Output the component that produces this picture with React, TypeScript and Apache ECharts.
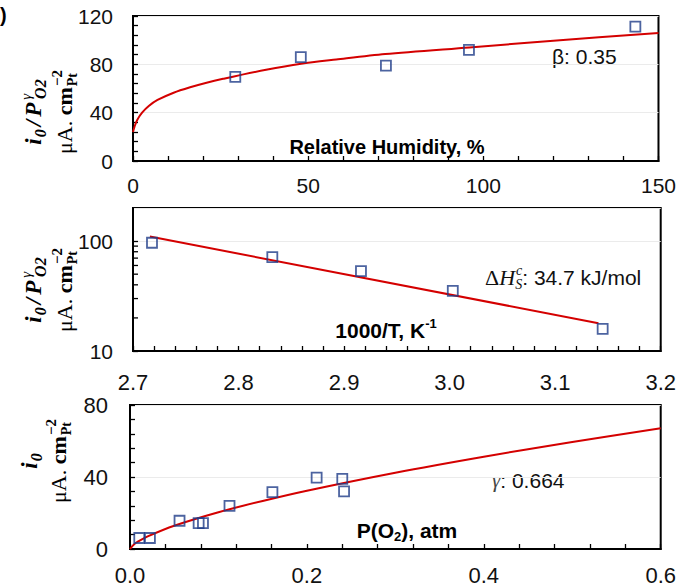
import { useEffect, useRef } from "react";
import * as echarts from "echarts";

// ---- Panel (a): relative humidity ----
const rhX = [29.2, 47.9, 72.2, 95.9, 143.4];
const rhY = [69.7, 85.9, 79, 92, 111.2];
const rhFitX = [0, 0.5, 1.2, 2.6, 4.5, 7, 11.6, 16.3, 21, 25.7, 38, 48, 58, 72, 96, 120, 150];
const rhFitY = [24, 29, 34, 40, 45.5, 50.5, 56.5, 61, 64.8, 68, 75.5, 80.5, 84, 88.5, 94, 99.5, 106];

// ---- Panel (b): Arrhenius ----
const arrX = [2.718, 2.832, 2.916, 3.003, 3.145];
const arrY = [96.6, 71.6, 53.2, 35.2, 15.9];
const arrFitX = [2.716, 3.141];
const arrFitY = [110, 17.9];
const logMinorTicks = [20, 30, 40, 50, 60, 70, 80, 90];

// ---- Panel (c): oxygen partial pressure ----
const po2X = [0.0105, 0.0225, 0.056, 0.0776, 0.0825, 0.1125, 0.161, 0.211, 0.24, 0.242];
const po2Y = [6.1, 6.1, 15.7, 14.4, 14.4, 24, 31.6, 39.7, 39, 32];
const po2FitX = [0, 0.005, 0.01, 0.02, 0.05, 0.1, 0.15, 0.2, 0.3, 0.4, 0.5, 0.6];
const po2FitY = [0, 2.8, 4.4, 7.0, 12.9, 20.4, 26.7, 32.4, 42.4, 51.3, 59.5, 67.1];

const RED = "#D40000";
const BLUE = "#1F3C88";
const SANS = "'Liberation Sans', Arial, sans-serif";
const SERIF = "'Liberation Serif', 'Times New Roman', serif";

const zip = (xs: number[], ys: number[]) => xs.map((x, i) => [x, ys[i]]);

function xAxis(gridIndex: number, min: number, max: number, interval: number, margin: number, digits: number, fontSize: number) {
  return {
    type: "value",
    gridIndex,
    min,
    max,
    interval,
    axisLine: { show: true, onZero: false, lineStyle: { color: "#000", width: 2 } },
    axisTick: { show: true, inside: true, length: 5, lineStyle: { color: "#000", width: 1.3 } },
    minorTick: { show: true, splitNumber: 5, length: 5, lineStyle: { color: "#000", width: 1.3 } },
    splitLine: { show: false },
    axisLabel: {
      fontSize,
      fontFamily: SANS,
      color: "#111",
      margin,
      formatter: (v: number) => v.toFixed(digits),
    },
  };
}

function yAxis(gridIndex: number, min: number, max: number, interval: number, margin: number, fontSize: number) {
  return {
    type: "value",
    gridIndex,
    min,
    max,
    interval,
    axisLine: { show: true, onZero: false, lineStyle: { color: "#000", width: 2 } },
    axisTick: { show: true, inside: true, length: 5, lineStyle: { color: "#000", width: 1.3 } },
    minorTick: { show: true, splitNumber: 5, length: 5, lineStyle: { color: "#000", width: 1.3 } },
    splitLine: { show: true, lineStyle: { color: "#ebebeb", width: 1 } },
    axisLabel: { fontSize, fontFamily: SANS, color: "#111", margin },
  };
}

const richL1 = {
  a: { fontFamily: SERIF, fontStyle: "italic", fontWeight: "bold", fontSize: 23, lineHeight: 30, fill: "#000" },
  sl: { fontFamily: SERIF, fontStyle: "italic", fontWeight: "bold", fontSize: 23, lineHeight: 30, fill: "#000", padding: [0, 3, 0, 3] },
  b: { fontFamily: SERIF, fontStyle: "italic", fontWeight: "bold", fontSize: 16, lineHeight: 14, verticalAlign: "bottom", fill: "#000", padding: [0, 0, 0, 1] },
  c: { fontFamily: SERIF, fontStyle: "italic", fontSize: 15, lineHeight: 13, verticalAlign: "top", fill: "#000", padding: [0, -6, 0, 3] },
};
const richL2 = {
  r: { fontFamily: SERIF, fontSize: 22, lineHeight: 30, fill: "#000" },
  bd: { fontFamily: SERIF, fontWeight: "bold", fontSize: 22, lineHeight: 30, fill: "#000" },
  sb: { fontFamily: SERIF, fontWeight: "bold", fontSize: 14, lineHeight: 13, verticalAlign: "bottom", fill: "#000", padding: [0, -13, 0, 1] },
  sp: { fontFamily: SERIF, fontWeight: "bold", fontSize: 15, lineHeight: 13, verticalAlign: "top", fill: "#000" },
};

function yTitle(x1: number, x2: number, y: number, first: string) {
  return [
    {
      type: "text",
      x: x1,
      y,
      rotation: Math.PI / 2,
      style: { text: first, rich: richL1, align: "center", verticalAlign: "middle" },
    },
    {
      type: "text",
      x: x2,
      y,
      rotation: Math.PI / 2,
      style: {
        text: "{r|μA. }{bd|cm}{sb|Pt}{sp|−2}",
        rich: richL2,
        align: "center",
        verticalAlign: "middle",
      },
    },
  ];
}

const FIRST_LINE = "{a|i}{b|0}{sl|/}{a|P}{c|γ}{b|O2}";

export default function App() {
  const ref = useRef<HTMLDivElement>(null);

  useEffect(() => {
    const chart = echarts.init(ref.current!, null, { renderer: "svg" });

    const gridStyle = { show: true, borderColor: "#000", borderWidth: 2, backgroundColor: "transparent", containLabel: false };
    const markerStyle = { color: "rgba(0,0,0,0)", borderColor: BLUE, borderWidth: 1.8 };

    const option: any = {
      animation: false,
      backgroundColor: "#fff",
      grid: [
        { ...gridStyle, left: 133, top: 16, width: 532, height: 145 },
        { ...gridStyle, left: 133, top: 208, width: 530, height: 143 },
        { ...gridStyle, left: 130, top: 405, width: 533, height: 144 },
      ],
      xAxis: [
        xAxis(0, 0, 150, 50, 14, 0, 21),
        xAxis(1, 2.7, 3.2, 0.1, 20, 1, 22),
        xAxis(2, 0, 0.6, 0.2, 15, 1, 22),
      ],
      yAxis: [
        yAxis(0, 0, 120, 40, 20, 21),
        {
          type: "log",
          gridIndex: 1,
          logBase: 10,
          min: 10,
          max: 200,
          axisLine: { show: true, onZero: false, lineStyle: { color: "#000", width: 2 } },
          axisTick: { show: true, inside: true, length: 5, lineStyle: { color: "#000", width: 1.3 } },
          minorTick: { show: false },
          splitLine: { show: true, lineStyle: { color: "#ebebeb", width: 1 } },
          axisLabel: {
            fontSize: 21,
            fontFamily: SANS,
            color: "#111",
            margin: 20,
            showMaxLabel: false,
            formatter: (v: number) => String(Math.round(v)),
          },
        },
        yAxis(2, 0, 80, 40, 22, 22),
      ],
      series: [
        {
          type: "line",
          xAxisIndex: 0,
          yAxisIndex: 0,
          data: zip(rhFitX, rhFitY),
          smooth: 0.3,
          showSymbol: false,
          lineStyle: { color: RED, width: 2 },
          silent: true,
        },
        {
          type: "scatter",
          xAxisIndex: 0,
          yAxisIndex: 0,
          data: zip(rhX, rhY),
          symbol: "rect",
          symbolSize: 10,
          itemStyle: markerStyle,
          z: 5,
        },
        {
          type: "line",
          xAxisIndex: 1,
          yAxisIndex: 1,
          data: zip(arrFitX, arrFitY),
          showSymbol: false,
          lineStyle: { color: RED, width: 2 },
          silent: true,
        },
        {
          type: "scatter",
          xAxisIndex: 1,
          yAxisIndex: 1,
          data: zip(arrX, arrY),
          symbol: "rect",
          symbolSize: 10,
          itemStyle: markerStyle,
          z: 5,
        },
        {
          type: "custom",
          xAxisIndex: 1,
          yAxisIndex: 1,
          silent: true,
          data: logMinorTicks.map((v) => [2.7, v]),
          renderItem: (_params: any, api: any) => {
            const p = api.coord([api.value(0), api.value(1)]);
            return {
              type: "line",
              shape: { x1: p[0], y1: p[1], x2: p[0] + 5, y2: p[1] },
              style: { stroke: "#000", lineWidth: 1.3 },
            };
          },
        },
        {
          type: "line",
          xAxisIndex: 2,
          yAxisIndex: 2,
          data: zip(po2FitX, po2FitY),
          smooth: 0.3,
          showSymbol: false,
          lineStyle: { color: RED, width: 2 },
          silent: true,
        },
        {
          type: "scatter",
          xAxisIndex: 2,
          yAxisIndex: 2,
          data: zip(po2X, po2Y),
          symbol: "rect",
          symbolSize: 10,
          itemStyle: markerStyle,
          z: 5,
        },
      ],
      graphic: [
        {
          type: "text",
          x: 0,
          y: 15,
          style: { text: ")", fontFamily: SANS, fontWeight: "bold", fontSize: 20, fill: "#000", align: "left", verticalAlign: "middle" },
        },
        ...yTitle(33, 64, 112, FIRST_LINE),
        ...yTitle(33, 64, 290, FIRST_LINE),
        ...yTitle(29, 58, 461, "{a|i}{b|0}"),
        {
          type: "text",
          x: 387,
          y: 147,
          style: { text: "Relative Humidity, %", fontFamily: SANS, fontWeight: "bold", fontSize: 20, fill: "#000", align: "center", verticalAlign: "middle" },
        },
        {
          type: "text",
          x: 552,
          y: 56,
          style: { text: "β: 0.35", fontFamily: SANS, fontSize: 21, fill: "#111", align: "left", verticalAlign: "middle" },
        },
        {
          type: "text",
          x: 386,
          y: 330,
          style: {
            text: "{b|1000/T, K}{s|-1}",
            align: "center",
            verticalAlign: "middle",
            rich: {
              b: { fontFamily: SANS, fontWeight: "bold", fontSize: 21, lineHeight: 26, fill: "#000" },
              s: { fontFamily: SANS, fontWeight: "bold", fontSize: 13, lineHeight: 13, verticalAlign: "top", fill: "#000" },
            },
          },
        },
        {
          type: "text",
          x: 485,
          y: 277,
          style: {
            text: "{r|Δ}{i|H}{sp|c}{sb|S}{t|: 34.7 kJ/mol}",
            align: "left",
            verticalAlign: "middle",
            rich: {
              r: { fontFamily: SERIF, fontSize: 22, lineHeight: 28, fill: "#111" },
              i: { fontFamily: SERIF, fontStyle: "italic", fontSize: 22, lineHeight: 28, fill: "#111" },
              sp: { fontFamily: SERIF, fontStyle: "italic", fontSize: 14, lineHeight: 12, verticalAlign: "top", fill: "#111", padding: [0, -7, 0, 1] },
              sb: { fontFamily: SERIF, fontStyle: "italic", fontSize: 14, lineHeight: 12, verticalAlign: "bottom", fill: "#111" },
              t: { fontFamily: SANS, fontSize: 21, lineHeight: 28, fill: "#111" },
            },
          },
        },
        {
          type: "text",
          x: 407,
          y: 530,
          style: {
            text: "{b|P(O}{s|2}{b|), atm}",
            align: "center",
            verticalAlign: "middle",
            rich: {
              b: { fontFamily: SANS, fontWeight: "bold", fontSize: 21, lineHeight: 26, fill: "#000" },
              s: { fontFamily: SANS, fontWeight: "bold", fontSize: 13, lineHeight: 13, verticalAlign: "bottom", fill: "#000" },
            },
          },
        },
        {
          type: "text",
          x: 492,
          y: 480,
          style: {
            text: "{g|γ}{t|: 0.664}",
            align: "left",
            verticalAlign: "middle",
            rich: {
              g: { fontFamily: SERIF, fontStyle: "italic", fontSize: 21, lineHeight: 26, fill: "#444" },
              t: { fontFamily: SANS, fontSize: 21, lineHeight: 26, fill: "#111" },
            },
          },
        },
      ],
    };

    chart.setOption(option);
    return () => chart.dispose();
  }, []);

  return <div ref={ref} style={{ position: "fixed", left: 0, top: 0, width: 679, height: 588 }} />;
}
